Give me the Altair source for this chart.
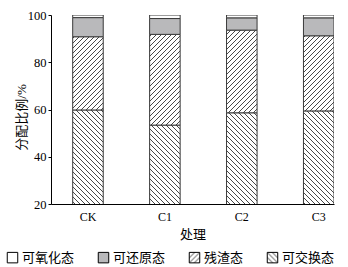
import altair as alt
import pandas as pd
import jinja2
from altair.utils.html import TEMPLATES

# ---- data ----
groups = ["CK", "C1", "C2", "C3"]
exchangeable = [59.8, 53.4, 58.6, 59.4]   # 可交换态 (bottom)
residual = [31.0, 38.4, 35.0, 31.8]       # 残渣态
reducible = [8.1, 6.7, 5.2, 7.6]          # 可还原态
oxidizable = [1.1, 1.5, 1.2, 1.2]         # 可氧化态 (top)

stack_order = ["可交换态", "残渣态", "可还原态", "可氧化态"]
legend_order = ["可氧化态", "可还原态", "残渣态", "可交换态"]
fills = ["white", "#b9b9bb", "url(#hatchFwd)", "url(#hatchBwd)"]

series = {
    "可交换态": exchangeable,
    "残渣态": residual,
    "可还原态": reducible,
    "可氧化态": oxidizable,
}
rows = []
for i, g in enumerate(groups):
    base = 0.0
    for name in stack_order:
        v = series[name][i]
        rows.append({"group": g, "fraction": name, "start": base, "end": base + v})
        base += v
df = pd.DataFrame(rows)

SERIF = "Liberation Serif, Noto Sans CJK SC"
CJK = "Noto Sans CJK SC"

bars = alt.Chart(df).mark_bar(stroke="#3a3a3a", strokeWidth=1, clip=True).encode(
    x=alt.X(
        "group:N",
        sort=groups,
        scale=alt.Scale(paddingInner=0.603, paddingOuter=0.141, align=1),
        axis=alt.Axis(
            title="处理", labelAngle=0, ticks=False, labelPadding=7,
            labelFont=SERIF, labelFontSize=12, labelColor="black",
            domainColor="black", domainWidth=1,
            titleFont=SERIF, titleFontSize=13, titleFontWeight="normal",
            titleColor="black", titleY=30, titleBaseline="middle",
        ),
    ),
    y=alt.Y(
        "start:Q",
        scale=alt.Scale(domain=[20, 100], nice=False, zero=False),
        axis=alt.Axis(
            title="分配比例/%", values=[20, 40, 60, 80, 100], grid=False,
            tickSize=3, tickColor="black", labelPadding=2,
            labelFont=SERIF, labelFontSize=12.5, labelColor="black",
            domainColor="black", domainWidth=1,
            titleFont=SERIF, titleFontSize=13, titleFontWeight="normal",
            titleColor="black", titleX=-30, titleY=102, titleBaseline="middle",
        ),
    ),
    y2="end:Q",
    color=alt.Color(
        "fraction:N",
        scale=alt.Scale(domain=legend_order, range=fills),
        legend=alt.Legend(
            title=None, orient="none", legendX=-45, legendY=236,
            direction="horizontal", columns=4, symbolType="square",
            symbolSize=110, symbolStrokeColor="black", symbolStrokeWidth=1,
            labelFont=CJK, labelFontSize=13, labelColor="black",
            labelOffset=3, columnPadding=21, padding=0,
        ),
    ),
)

chart = bars.properties(
    width=283, height=189,
    autosize=alt.AutoSizeParams(type="none"),
    padding={"left": 51, "top": 15, "right": 14, "bottom": 63},
).configure_view(stroke=None)

# hatch patterns referenced by the url(#...) fills above
DEFS = (
    '<svg width="0" height="0" style="position:absolute">'
    '<defs>'
    '<pattern id="hatchFwd" patternUnits="userSpaceOnUse" width="5" height="5">'
    '<rect width="5" height="5" fill="white"/>'
    '<path d="M0,5 L5,0 M-1,1 L1,-1 M4,6 L6,4" stroke="#333" stroke-width="0.9"/>'
    '</pattern>'
    '<pattern id="hatchBwd" patternUnits="userSpaceOnUse" width="5" height="5">'
    '<rect width="5" height="5" fill="white"/>'
    '<path d="M0,0 L5,5 M-1,4 L1,6 M4,-1 L6,1" stroke="#333" stroke-width="0.9"/>'
    '</pattern>'
    '</defs></svg>'
)


class HatchTemplate(jinja2.Template):
    def render(self, *args, **kwargs):
        html = TEMPLATES["standard"].render(*args, **kwargs)
        if "<body>" in html:
            return html.replace("<body>", "<body>\n" + DEFS, 1)
        return DEFS + html


chart.save(
    "out.html",
    embed_options={"renderer": "svg", "actions": False},
    template=HatchTemplate(""),
)
